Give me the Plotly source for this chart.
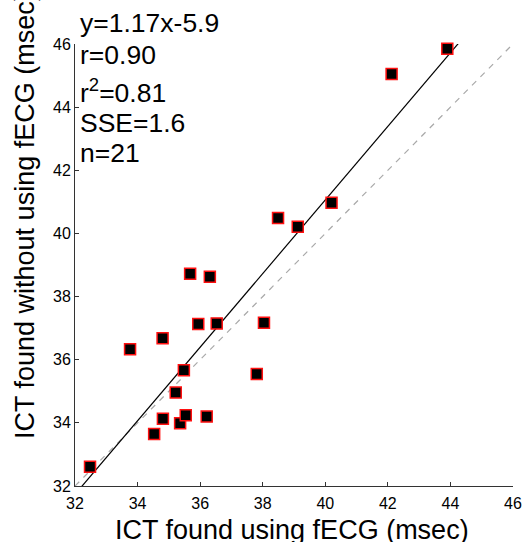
import numpy as np
import plotly.graph_objects as go

# ---- data ----
ict_fecg = [32.48, 33.76, 34.80, 34.53, 34.81, 35.22, 35.36, 35.54, 35.48, 35.68, 36.31,
            35.94, 36.53, 36.21, 37.81, 38.04, 38.49, 39.12, 40.20, 42.12, 43.90]
ict_no_fecg = [32.61, 36.33, 36.68, 33.65, 34.13, 34.96, 33.99, 34.24, 35.67, 38.72, 38.63,
               37.13, 37.15, 34.20, 35.55, 37.17, 40.49, 40.21, 40.97, 45.05, 45.85]
tick_vals = [32, 34, 36, 38, 40, 42, 44, 46]
axis_range = [32, 46]
stats_lines = ["y=1.17x-5.9", "r=0.90", "r<sup>2</sup>=0.81", "SSE=1.6", "n=21"]

# least-squares fit line from the data
slope, intercept = np.polyfit(ict_fecg, ict_no_fecg, 1)
fit_x = np.array(axis_range, dtype=float)
fit_y = slope * fit_x + intercept

FONT = "Liberation Sans, Arial, sans-serif"

fig = go.Figure()
fig.add_trace(go.Scatter(x=axis_range, y=axis_range, mode="lines",
                         line=dict(color="#a8a8a8", width=1.2, dash="6px,6px"),
                         hoverinfo="skip", showlegend=False))
fig.add_trace(go.Scatter(x=fit_x, y=fit_y, mode="lines",
                         line=dict(color="black", width=1.2),
                         hoverinfo="skip", showlegend=False))
fig.add_trace(go.Scatter(x=ict_fecg, y=ict_no_fecg, mode="markers",
                         marker=dict(symbol="square", size=11, color="black",
                                     line=dict(color="#ff1010", width=1.5)),
                         cliponaxis=False, showlegend=False))

axis_common = dict(range=axis_range, tickvals=tick_vals, ticks="inside", ticklen=4,
                   tickcolor="#333", tickwidth=1, showline=True, linecolor="#333",
                   linewidth=1, showgrid=False, zeroline=False, automargin=False,
                   tickfont=dict(family=FONT, size=16, color="black"))
fig.update_xaxes(**axis_common, ticklabelstandoff=3)
fig.update_yaxes(**axis_common)

W, H = 524, 542
L, R, T, B = 75, 11, 44, 56
pw, ph = W - L - R, H - T - B

def px2paper_x(px):
    return (px - L) / pw

def px2paper_y(py):
    return (H - B - py) / ph

anns = []
line_centres = [23.5, 54.5, 91, 122.5, 153]
for txt, cy in zip(stats_lines, line_centres):
    anns.append(dict(text=txt, x=px2paper_x(78), y=px2paper_y(cy), xref="paper", yref="paper",
                     xanchor="left", yanchor="middle", showarrow=False,
                     font=dict(family=FONT, size=26.5, color="black")))
anns.append(dict(text="ICT found using fECG (msec)", x=px2paper_x(292), y=px2paper_y(530),
                 xref="paper", yref="paper", xanchor="center", yanchor="middle",
                 showarrow=False, font=dict(family=FONT, size=27, color="black")))
anns.append(dict(text="ICT found without using fECG (msec)", x=px2paper_x(25), y=px2paper_y(216),
                 xref="paper", yref="paper", xanchor="center", yanchor="middle", textangle=-90,
                 showarrow=False, font=dict(family=FONT, size=27, color="black")))

fig.update_layout(width=W, height=H, autosize=False,
                  margin=dict(l=L, r=R, t=T, b=B, pad=0, autoexpand=False),
                  plot_bgcolor="white", paper_bgcolor="white",
                  annotations=anns)

fig.write_html("out.html", config={"displayModeBar": False, "responsive": False},
               post_script="document.body.style.margin='0';document.body.style.overflow='hidden';")
